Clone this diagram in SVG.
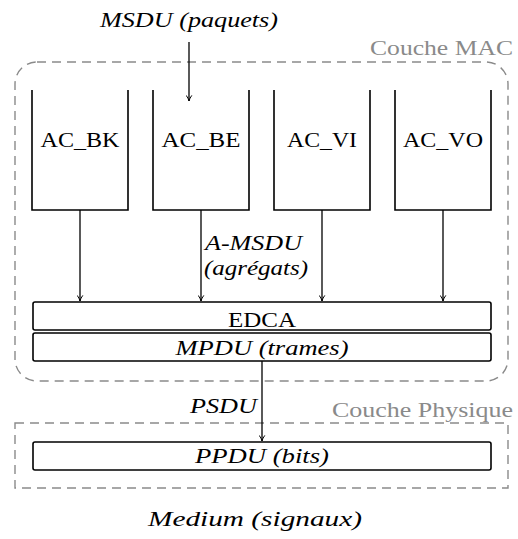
<svg xmlns="http://www.w3.org/2000/svg" width="518" height="539" viewBox="0 0 518 539">
<style>
text{font-family:"Liberation Serif","DejaVu Serif",serif;fill:#000}
.it{font-style:italic}
.gray{fill:#8a8a8a}
.dash{fill:none;stroke:#8a8a8a;stroke-width:1.4;stroke-dasharray:9 6}
.q{fill:none;stroke:#000;stroke-width:1.6}
.box{fill:#fff;stroke:#000;stroke-width:1.6}
.arr{stroke:#000;stroke-width:1.3;fill:none;marker-end:url(#ah)}
</style>
<defs>
<marker id="ah" viewBox="0 0 10 10" refX="9" refY="5" markerWidth="7" markerHeight="7" markerUnits="userSpaceOnUse" orient="auto">
<path d="M1,1 Q5,4 9,5 Q5,6 1,9" fill="none" stroke="#000" stroke-width="1.4"/>
</marker>
</defs>
<g id="mac-layer">
<rect class="dash" x="15" y="62" width="493" height="319" rx="22" ry="22"/>
<text class="gray" x="370" y="55" font-size="21" textLength="143" lengthAdjust="spacingAndGlyphs">Couche MAC</text>
</g>
<g id="phy-layer">
<rect class="dash" x="15" y="423" width="493" height="65"/>
<text class="gray" x="332" y="417" font-size="21" textLength="181" lengthAdjust="spacingAndGlyphs">Couche Physique</text>
</g>
<g id="ac_bk">
<path class="q" d="M32,90 V210 H128 V90"/>
<text x="80" y="147" font-size="22" text-anchor="middle" textLength="79" lengthAdjust="spacingAndGlyphs">AC_BK</text>
</g>
<g id="ac_be">
<path class="q" d="M153,90 V210 H249 V90"/>
<text x="201" y="147" font-size="22" text-anchor="middle" textLength="79" lengthAdjust="spacingAndGlyphs">AC_BE</text>
</g>
<g id="ac_vi">
<path class="q" d="M274,90 V210 H370 V90"/>
<text x="322" y="147" font-size="22" text-anchor="middle" textLength="70" lengthAdjust="spacingAndGlyphs">AC_VI</text>
</g>
<g id="ac_vo">
<path class="q" d="M395,90 V210 H491 V90"/>
<text x="443" y="147" font-size="22" text-anchor="middle" textLength="80" lengthAdjust="spacingAndGlyphs">AC_VO</text>
</g>
<g id="edca">
<rect class="box" x="33" y="302" width="458" height="28" rx="2"/>
<text x="262" y="327" font-size="22" text-anchor="middle" textLength="68" lengthAdjust="spacingAndGlyphs">EDCA</text>
</g>
<g id="mpdu">
<rect class="box" x="33" y="333" width="458" height="28" rx="2"/>
<text class="it" x="262" y="355" font-size="21" text-anchor="middle" textLength="173" lengthAdjust="spacingAndGlyphs">MPDU (trames)</text>
</g>
<g id="ppdu">
<rect class="box" x="33" y="442" width="458" height="28" rx="2"/>
<text class="it" x="262" y="463" font-size="21" text-anchor="middle" textLength="134" lengthAdjust="spacingAndGlyphs">PPDU (bits)</text>
</g>
<g id="msdu">
<text class="it" x="189" y="27" font-size="21" text-anchor="middle" textLength="178" lengthAdjust="spacingAndGlyphs">MSDU (paquets)</text>
</g>
<g id="medium">
<text class="it" x="255" y="526" font-size="21" text-anchor="middle" textLength="214" lengthAdjust="spacingAndGlyphs">Medium (signaux)</text>
</g>
<g id="connectors">
<line class="arr" x1="189" y1="42" x2="189" y2="101"/>
<line class="arr" x1="80" y1="210" x2="80" y2="301"/>
<line class="arr" x1="201" y1="210" x2="201" y2="301"/>
<line class="arr" x1="322" y1="210" x2="322" y2="301"/>
<line class="arr" x1="443" y1="210" x2="443" y2="301"/>
<line class="arr" x1="262" y1="361" x2="262" y2="441"/>
<text class="it" x="205" y="250" font-size="21" textLength="97" lengthAdjust="spacingAndGlyphs">A-MSDU</text>
<text class="it" x="204" y="275" font-size="21" textLength="104" lengthAdjust="spacingAndGlyphs">(agrégats)</text>
<text class="it" x="190" y="413" font-size="21" textLength="67" lengthAdjust="spacingAndGlyphs">PSDU</text>
</g>
</svg>
